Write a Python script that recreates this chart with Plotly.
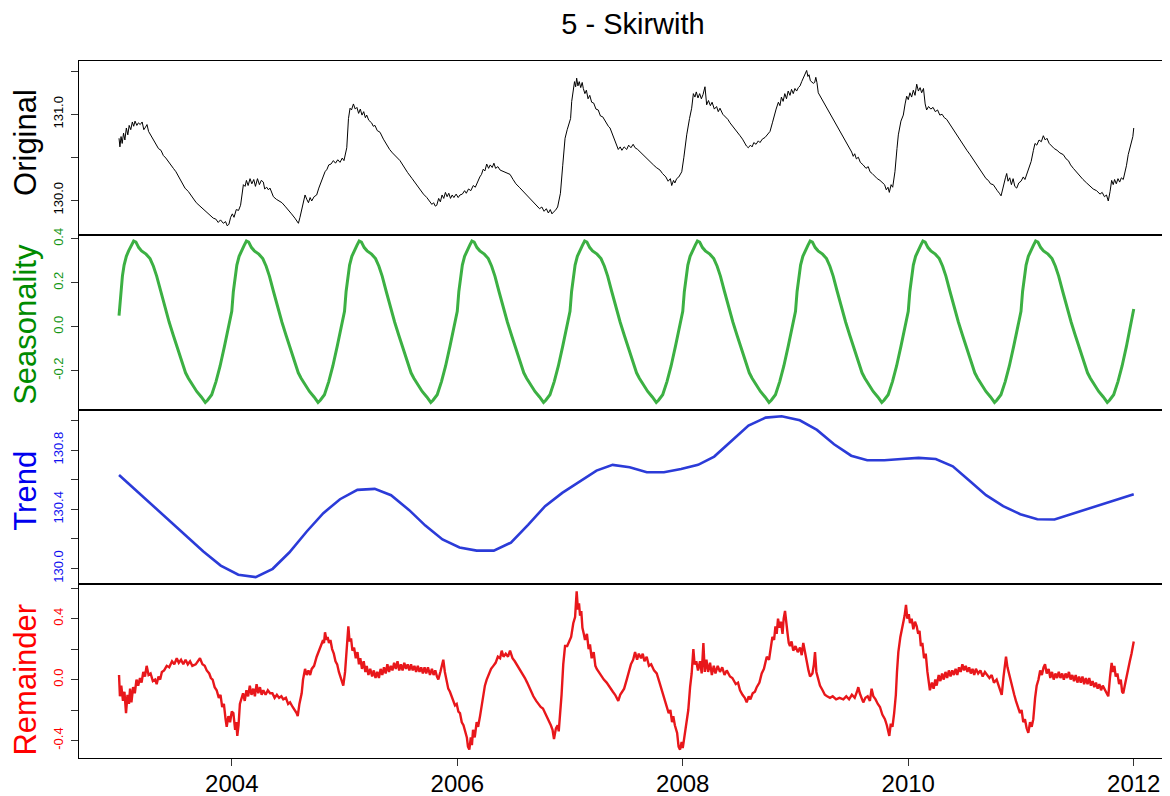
import plotly.graph_objects as go
from plotly.subplots import make_subplots

# ---------------- data ----------------
# (decimal year, value)
original_points = [
    (2003.000, 130.72), (2003.008, 130.62), (2003.018, 130.74), (2003.028, 130.66), (2003.040, 130.78),
    (2003.052, 130.70), (2003.065, 130.84), (2003.078, 130.76), (2003.090, 130.87), (2003.104, 130.82),
    (2003.118, 130.91), (2003.130, 130.86), (2003.142, 130.92), (2003.158, 130.87), (2003.172, 130.90),
    (2003.188, 130.88), (2003.205, 130.91), (2003.220, 130.82), (2003.235, 130.85), (2003.248, 130.88),
    (2003.262, 130.80), (2003.280, 130.76), (2003.304, 130.70), (2003.330, 130.64), (2003.350, 130.60),
    (2003.372, 130.58), (2003.393, 130.52), (2003.415, 130.49), (2003.440, 130.45), (2003.460, 130.41),
    (2003.482, 130.37), (2003.505, 130.33), (2003.530, 130.27), (2003.555, 130.21), (2003.585, 130.14),
    (2003.615, 130.10), (2003.650, 130.03), (2003.685, 129.97), (2003.718, 129.93), (2003.750, 129.89),
    (2003.780, 129.86), (2003.808, 129.82), (2003.836, 129.79), (2003.858, 129.78), (2003.880, 129.74),
    (2003.900, 129.77), (2003.925, 129.73), (2003.945, 129.75), (2003.960, 129.70), (2003.975, 129.72),
    (2003.990, 129.80), (2004.005, 129.84), (2004.020, 129.80), (2004.040, 129.89), (2004.060, 129.88),
    (2004.078, 129.94), (2004.092, 130.08), (2004.103, 130.18), (2004.118, 130.16), (2004.130, 130.23),
    (2004.145, 130.17), (2004.162, 130.25), (2004.178, 130.19), (2004.195, 130.24), (2004.210, 130.16),
    (2004.228, 130.25), (2004.245, 130.18), (2004.262, 130.23), (2004.280, 130.21), (2004.292, 130.13),
    (2004.310, 130.15), (2004.325, 130.12), (2004.339, 130.14), (2004.355, 130.08), (2004.369, 130.04),
    (2004.395, 130.01), (2004.420, 129.99), (2004.445, 129.97), (2004.472, 129.93), (2004.500, 129.88),
    (2004.530, 129.84), (2004.560, 129.79), (2004.591, 129.73), (2004.605, 129.80), (2004.620, 129.89),
    (2004.635, 129.95), (2004.650, 130.06), (2004.665, 130.01), (2004.680, 129.97), (2004.695, 130.03),
    (2004.709, 129.99), (2004.730, 130.04), (2004.753, 130.06), (2004.772, 130.14), (2004.790, 130.20),
    (2004.810, 130.27), (2004.827, 130.33), (2004.845, 130.36), (2004.860, 130.41), (2004.880, 130.42),
    (2004.901, 130.46), (2004.920, 130.43), (2004.940, 130.47), (2004.960, 130.44), (2004.980, 130.49),
    (2004.995, 130.46), (2005.010, 130.55), (2005.020, 130.61), (2005.035, 130.95), (2005.049, 131.07),
    (2005.062, 131.05), (2005.079, 131.12), (2005.095, 131.06), (2005.110, 131.08), (2005.125, 131.01),
    (2005.140, 131.06), (2005.155, 130.99), (2005.170, 131.03), (2005.185, 130.96), (2005.197, 130.99),
    (2005.215, 130.93), (2005.240, 130.90), (2005.255, 130.86), (2005.270, 130.87), (2005.290, 130.81),
    (2005.315, 130.79), (2005.345, 130.71), (2005.370, 130.65), (2005.400, 130.59), (2005.425, 130.55),
    (2005.450, 130.51), (2005.470, 130.49), (2005.492, 130.46), (2005.525, 130.39), (2005.560, 130.32),
    (2005.600, 130.25), (2005.640, 130.18), (2005.670, 130.12), (2005.700, 130.07), (2005.730, 130.03),
    (2005.758, 129.98), (2005.775, 129.95), (2005.790, 129.97), (2005.805, 129.93), (2005.818, 129.94),
    (2005.835, 130.02), (2005.850, 129.98), (2005.865, 130.06), (2005.880, 130.02), (2005.895, 130.09),
    (2005.910, 130.04), (2005.925, 130.08), (2005.940, 130.02), (2005.955, 130.06), (2005.970, 130.03),
    (2005.990, 130.07), (2006.008, 130.03), (2006.024, 130.06), (2006.045, 130.07), (2006.065, 130.11),
    (2006.080, 130.08), (2006.100, 130.13), (2006.120, 130.11), (2006.142, 130.17), (2006.160, 130.15),
    (2006.180, 130.22), (2006.200, 130.27), (2006.215, 130.30), (2006.230, 130.36), (2006.245, 130.34),
    (2006.261, 130.42), (2006.278, 130.37), (2006.292, 130.41), (2006.310, 130.38), (2006.325, 130.43),
    (2006.340, 130.37), (2006.360, 130.39), (2006.380, 130.35), (2006.400, 130.34), (2006.430, 130.32),
    (2006.468, 130.30), (2006.495, 130.24), (2006.520, 130.19), (2006.550, 130.15), (2006.586, 130.10),
    (2006.615, 130.06), (2006.650, 130.01), (2006.680, 129.97), (2006.705, 129.94), (2006.730, 129.90),
    (2006.750, 129.92), (2006.770, 129.87), (2006.790, 129.90), (2006.808, 129.85), (2006.825, 129.89),
    (2006.840, 129.84), (2006.852, 129.86), (2006.870, 129.88), (2006.890, 129.92), (2006.905, 130.00),
    (2006.915, 130.08), (2006.935, 130.40), (2006.956, 130.72), (2006.975, 130.82), (2006.990, 130.90),
    (2007.005, 130.95), (2007.015, 131.15), (2007.029, 131.30), (2007.040, 131.38), (2007.050, 131.32),
    (2007.059, 131.42), (2007.070, 131.33), (2007.082, 131.38), (2007.095, 131.31), (2007.108, 131.37),
    (2007.118, 131.30), (2007.132, 131.24), (2007.145, 131.28), (2007.160, 131.18), (2007.175, 131.22),
    (2007.192, 131.14), (2007.210, 131.13), (2007.230, 131.06), (2007.250, 131.05), (2007.270, 130.98),
    (2007.290, 130.97), (2007.320, 130.90), (2007.340, 130.86), (2007.355, 130.84), (2007.380, 130.75),
    (2007.400, 130.68), (2007.415, 130.62), (2007.428, 130.59), (2007.445, 130.62), (2007.460, 130.58),
    (2007.480, 130.62), (2007.503, 130.59), (2007.520, 130.64), (2007.540, 130.61), (2007.560, 130.65),
    (2007.577, 130.61), (2007.600, 130.59), (2007.630, 130.55), (2007.650, 130.53), (2007.680, 130.48),
    (2007.700, 130.46), (2007.720, 130.43), (2007.740, 130.41), (2007.765, 130.38), (2007.798, 130.35),
    (2007.820, 130.31), (2007.850, 130.27), (2007.870, 130.22), (2007.890, 130.25), (2007.902, 130.17),
    (2007.918, 130.23), (2007.930, 130.20), (2007.946, 130.25), (2007.965, 130.27), (2007.991, 130.33),
    (2008.010, 130.50), (2008.035, 130.76), (2008.060, 130.95), (2008.079, 131.07), (2008.094, 131.24),
    (2008.108, 131.20), (2008.120, 131.26), (2008.135, 131.19), (2008.150, 131.24), (2008.165, 131.18),
    (2008.180, 131.23), (2008.197, 131.32), (2008.212, 131.11), (2008.228, 131.16), (2008.245, 131.10),
    (2008.260, 131.14), (2008.280, 131.06), (2008.300, 131.09), (2008.315, 131.03), (2008.330, 131.07),
    (2008.355, 131.00), (2008.380, 130.97), (2008.400, 130.94), (2008.419, 130.90), (2008.445, 130.86),
    (2008.470, 130.82), (2008.490, 130.79), (2008.508, 130.75), (2008.530, 130.71), (2008.550, 130.66),
    (2008.565, 130.63), (2008.581, 130.61), (2008.600, 130.64), (2008.615, 130.62), (2008.630, 130.67),
    (2008.650, 130.65), (2008.670, 130.69), (2008.685, 130.67), (2008.705, 130.71), (2008.730, 130.73),
    (2008.752, 130.77), (2008.774, 130.80), (2008.795, 130.90), (2008.810, 130.96), (2008.828, 131.06),
    (2008.848, 131.14), (2008.862, 131.10), (2008.875, 131.20), (2008.890, 131.15), (2008.905, 131.24),
    (2008.920, 131.18), (2008.935, 131.27), (2008.951, 131.22), (2008.965, 131.29), (2008.980, 131.24),
    (2008.995, 131.30), (2009.010, 131.27), (2009.025, 131.31), (2009.040, 131.33), (2009.055, 131.38),
    (2009.070, 131.43), (2009.085, 131.47), (2009.099, 131.51), (2009.110, 131.44), (2009.120, 131.46),
    (2009.132, 131.39), (2009.144, 131.38), (2009.158, 131.36), (2009.170, 131.37), (2009.180, 131.43),
    (2009.190, 131.37), (2009.202, 131.25), (2009.498, 130.56), (2009.512, 130.51), (2009.525, 130.54),
    (2009.540, 130.48), (2009.557, 130.50), (2009.575, 130.44), (2009.600, 130.41), (2009.625, 130.37),
    (2009.645, 130.39), (2009.661, 130.33), (2009.680, 130.31), (2009.700, 130.28), (2009.725, 130.25),
    (2009.749, 130.23), (2009.770, 130.20), (2009.790, 130.18), (2009.805, 130.12), (2009.820, 130.15),
    (2009.832, 130.09), (2009.848, 130.18), (2009.862, 130.15), (2009.882, 130.33), (2009.900, 130.60),
    (2009.912, 130.76), (2009.935, 130.92), (2009.956, 130.99), (2009.972, 131.12), (2009.986, 131.21),
    (2010.000, 131.17), (2010.015, 131.25), (2010.030, 131.20), (2010.045, 131.28), (2010.060, 131.22),
    (2010.075, 131.35), (2010.090, 131.27), (2010.105, 131.31), (2010.119, 131.25), (2010.135, 131.30),
    (2010.150, 131.12), (2010.163, 131.05), (2010.180, 131.09), (2010.200, 131.06), (2010.220, 131.08),
    (2010.240, 131.03), (2010.260, 131.05), (2010.280, 130.99), (2010.300, 131.00), (2010.320, 130.96),
    (2010.341, 130.94), (2010.365, 130.89), (2010.390, 130.84), (2010.410, 130.80), (2010.430, 130.76),
    (2010.460, 130.70), (2010.490, 130.64), (2010.520, 130.58), (2010.548, 130.53), (2010.580, 130.47),
    (2010.610, 130.41), (2010.640, 130.35), (2010.666, 130.30), (2010.690, 130.25), (2010.710, 130.23),
    (2010.730, 130.19), (2010.754, 130.18), (2010.775, 130.13), (2010.790, 130.11), (2010.808, 130.08),
    (2010.823, 130.05), (2010.838, 130.13), (2010.850, 130.21), (2010.862, 130.26), (2010.873, 130.31),
    (2010.885, 130.22), (2010.900, 130.26), (2010.915, 130.18), (2010.930, 130.25), (2010.945, 130.16),
    (2010.962, 130.14), (2010.980, 130.20), (2011.000, 130.22), (2011.020, 130.27), (2011.035, 130.24),
    (2011.051, 130.30), (2011.070, 130.38), (2011.090, 130.45), (2011.110, 130.58), (2011.124, 130.66),
    (2011.140, 130.64), (2011.160, 130.70), (2011.180, 130.68), (2011.198, 130.75), (2011.215, 130.70),
    (2011.230, 130.72), (2011.250, 130.66), (2011.272, 130.63), (2011.295, 130.60), (2011.320, 130.58),
    (2011.345, 130.55), (2011.375, 130.53), (2011.400, 130.48), (2011.420, 130.46), (2011.440, 130.41),
    (2011.464, 130.37), (2011.490, 130.33), (2011.520, 130.28), (2011.550, 130.24), (2011.582, 130.20),
    (2011.610, 130.16), (2011.640, 130.13), (2011.670, 130.11), (2011.701, 130.07), (2011.720, 130.09),
    (2011.740, 130.04), (2011.758, 130.06), (2011.774, 129.99), (2011.790, 130.10), (2011.804, 130.23),
    (2011.818, 130.18), (2011.830, 130.24), (2011.845, 130.19), (2011.860, 130.25), (2011.875, 130.21),
    (2011.890, 130.26), (2011.907, 130.24), (2011.920, 130.30), (2011.935, 130.40), (2011.951, 130.53),
    (2011.965, 130.60), (2011.981, 130.69), (2011.992, 130.74), (2012.000, 130.84),
]

seas_years = [2003, 2004, 2005, 2006, 2007, 2008, 2009, 2010, 2011]
seas_phase = [0.000, 0.014, 0.030, 0.045, 0.065, 0.085, 0.110, 0.130, 0.150, 0.175, 0.200,
              0.240, 0.275, 0.305, 0.334, 0.370, 0.408, 0.445, 0.482, 0.520, 0.556, 0.590,
              0.615, 0.650, 0.689, 0.730, 0.765, 0.785, 0.822, 0.860, 0.896, 0.935, 0.970]
seas_by_year = [
    [0.05, 0.15, 0.23, 0.28, 0.32, 0.345, 0.37, 0.39, 0.385, 0.36, 0.345, 0.33, 0.31, 0.275, 0.23, 0.16, 0.085,
     0.02, -0.04, -0.10, -0.16, -0.21, -0.235, -0.265, -0.295, -0.32, -0.345, -0.335, -0.31, -0.25, -0.18, -0.09, 0.0],
    [0.07, 0.16, 0.23, 0.28, 0.32, 0.345, 0.37, 0.39, 0.385, 0.36, 0.345, 0.33, 0.31, 0.275, 0.23, 0.16, 0.085,
     0.02, -0.04, -0.10, -0.16, -0.21, -0.235, -0.265, -0.295, -0.32, -0.345, -0.335, -0.31, -0.25, -0.18, -0.09, 0.0],
    [0.07, 0.16, 0.23, 0.28, 0.32, 0.345, 0.37, 0.39, 0.385, 0.36, 0.345, 0.33, 0.31, 0.275, 0.23, 0.16, 0.085,
     0.02, -0.04, -0.10, -0.16, -0.21, -0.235, -0.265, -0.295, -0.32, -0.345, -0.335, -0.31, -0.25, -0.18, -0.09, 0.0],
    [0.07, 0.16, 0.23, 0.28, 0.32, 0.345, 0.37, 0.39, 0.385, 0.36, 0.345, 0.33, 0.31, 0.275, 0.23, 0.16, 0.085,
     0.02, -0.04, -0.10, -0.16, -0.21, -0.235, -0.265, -0.295, -0.32, -0.345, -0.335, -0.31, -0.25, -0.18, -0.09, 0.0],
    [0.07, 0.16, 0.23, 0.28, 0.32, 0.345, 0.37, 0.39, 0.385, 0.36, 0.345, 0.33, 0.31, 0.275, 0.23, 0.16, 0.085,
     0.02, -0.04, -0.10, -0.16, -0.21, -0.235, -0.265, -0.295, -0.32, -0.345, -0.335, -0.31, -0.25, -0.18, -0.09, 0.0],
    [0.07, 0.16, 0.23, 0.28, 0.32, 0.345, 0.37, 0.39, 0.385, 0.36, 0.345, 0.33, 0.31, 0.275, 0.23, 0.16, 0.085,
     0.02, -0.04, -0.10, -0.16, -0.21, -0.235, -0.265, -0.295, -0.32, -0.345, -0.335, -0.31, -0.25, -0.18, -0.09, 0.0],
    [0.07, 0.16, 0.23, 0.28, 0.32, 0.345, 0.37, 0.39, 0.385, 0.36, 0.345, 0.33, 0.31, 0.275, 0.23, 0.16, 0.085,
     0.02, -0.04, -0.10, -0.16, -0.21, -0.235, -0.265, -0.295, -0.32, -0.345, -0.335, -0.31, -0.25, -0.18, -0.09, 0.0],
    [0.07, 0.16, 0.23, 0.28, 0.32, 0.345, 0.37, 0.39, 0.385, 0.36, 0.345, 0.33, 0.31, 0.275, 0.23, 0.16, 0.085,
     0.02, -0.04, -0.10, -0.16, -0.21, -0.235, -0.265, -0.295, -0.32, -0.345, -0.335, -0.31, -0.25, -0.18, -0.09, 0.0],
    [0.07, 0.16, 0.23, 0.28, 0.32, 0.345, 0.37, 0.39, 0.385, 0.36, 0.345, 0.33, 0.31, 0.275, 0.23, 0.16, 0.085,
     0.02, -0.04, -0.10, -0.16, -0.21, -0.235, -0.265, -0.295, -0.32, -0.345, -0.335, -0.31, -0.25, -0.18, -0.09, 0.0],
]
seas_end_t = 2012.0
seas_end_v = 0.08

trend_t = [2003.000, 2003.150, 2003.300, 2003.450, 2003.600, 2003.748, 2003.902, 2004.058, 2004.212, 2004.363,
           2004.510, 2004.665, 2004.812, 2004.960, 2005.114, 2005.268, 2005.413, 2005.574, 2005.717, 2005.869,
           2006.020, 2006.172, 2006.324, 2006.476, 2006.628, 2006.779, 2006.931, 2007.083, 2007.235, 2007.378,
           2007.529, 2007.681, 2007.833, 2007.985, 2008.136, 2008.279, 2008.431, 2008.583, 2008.735, 2008.877,
           2009.038, 2009.190, 2009.342, 2009.494, 2009.636, 2009.788, 2009.940, 2010.092, 2010.244, 2010.395,
           2010.538, 2010.690, 2010.842, 2010.994, 2011.145, 2011.297, 2012.000]
trend_v = [130.632, 130.528, 130.425, 130.321, 130.217, 130.115, 130.020, 129.958, 129.942, 129.998,
           130.108, 130.250, 130.374, 130.468, 130.531, 130.538, 130.495, 130.394, 130.290, 130.196,
           130.142, 130.121, 130.121, 130.175, 130.295, 130.421, 130.511, 130.587, 130.661, 130.700,
           130.684, 130.650, 130.650, 130.672, 130.700, 130.756, 130.861, 130.965, 131.019, 131.028,
           131.001, 130.936, 130.839, 130.762, 130.731, 130.731, 130.740, 130.747, 130.740, 130.690,
           130.596, 130.495, 130.421, 130.367, 130.333, 130.331, 130.502]

remainder_points = [
    (2003.000, 0.03), (2003.008, -0.11), (2003.020, -0.04), (2003.035, -0.14), (2003.048, -0.08),
    (2003.062, -0.22), (2003.075, -0.10), (2003.088, -0.16), (2003.098, -0.06), (2003.110, -0.15),
    (2003.125, -0.05), (2003.140, -0.09), (2003.155, 0.00), (2003.170, -0.04), (2003.186, 0.01),
    (2003.200, -0.02), (2003.215, 0.05), (2003.230, 0.02), (2003.245, 0.09), (2003.262, 0.03),
    (2003.280, 0.04), (2003.300, -0.01), (2003.320, 0.00), (2003.334, -0.03), (2003.350, 0.02),
    (2003.365, 0.00), (2003.380, 0.05), (2003.400, 0.06), (2003.423, 0.09), (2003.445, 0.08),
    (2003.470, 0.12), (2003.490, 0.10), (2003.512, 0.14), (2003.530, 0.11), (2003.550, 0.13),
    (2003.570, 0.10), (2003.590, 0.13), (2003.610, 0.10), (2003.630, 0.12), (2003.650, 0.09),
    (2003.680, 0.10), (2003.700, 0.12), (2003.718, 0.14), (2003.740, 0.10), (2003.760, 0.09),
    (2003.778, 0.06), (2003.800, 0.04), (2003.815, 0.01), (2003.830, 0.00), (2003.848, -0.05),
    (2003.866, -0.07), (2003.885, -0.12), (2003.900, -0.10), (2003.915, -0.18), (2003.930, -0.16),
    (2003.945, -0.26), (2003.955, -0.31), (2003.970, -0.24), (2003.985, -0.28), (2004.000, -0.21),
    (2004.014, -0.22), (2004.030, -0.33), (2004.040, -0.28), (2004.049, -0.37), (2004.060, -0.30),
    (2004.072, -0.16), (2004.088, -0.12), (2004.100, -0.09), (2004.115, -0.14), (2004.130, -0.07),
    (2004.145, -0.11), (2004.160, -0.04), (2004.175, -0.10), (2004.191, -0.06), (2004.205, -0.11),
    (2004.220, -0.03), (2004.235, -0.09), (2004.250, -0.05), (2004.265, -0.10), (2004.280, -0.07),
    (2004.300, -0.10), (2004.320, -0.07), (2004.340, -0.09), (2004.360, -0.09), (2004.380, -0.12),
    (2004.400, -0.10), (2004.420, -0.12), (2004.440, -0.11), (2004.457, -0.13), (2004.480, -0.12),
    (2004.500, -0.16), (2004.517, -0.15), (2004.540, -0.18), (2004.560, -0.20), (2004.575, -0.22),
    (2004.585, -0.24), (2004.600, -0.16), (2004.620, -0.09), (2004.632, 0.00), (2004.650, 0.07),
    (2004.665, 0.03), (2004.680, 0.06), (2004.695, 0.03), (2004.709, 0.07), (2004.730, 0.09),
    (2004.753, 0.15), (2004.770, 0.18), (2004.790, 0.22), (2004.805, 0.25), (2004.818, 0.24),
    (2004.827, 0.31), (2004.840, 0.26), (2004.850, 0.28), (2004.862, 0.24), (2004.875, 0.26),
    (2004.890, 0.20), (2004.905, 0.17), (2004.920, 0.12), (2004.935, 0.10), (2004.950, 0.05),
    (2004.965, 0.02), (2004.978, -0.01), (2004.989, -0.04), (2005.005, 0.05), (2005.020, 0.20),
    (2005.034, 0.35), (2005.045, 0.25), (2005.058, 0.27), (2005.070, 0.19), (2005.085, 0.21),
    (2005.100, 0.14), (2005.115, 0.18), (2005.128, 0.10), (2005.140, 0.14), (2005.155, 0.07),
    (2005.170, 0.12), (2005.185, 0.05), (2005.197, 0.09), (2005.212, 0.03), (2005.228, 0.07),
    (2005.245, 0.02), (2005.260, 0.06), (2005.275, 0.01), (2005.290, 0.05), (2005.305, 0.01),
    (2005.320, 0.07), (2005.335, 0.03), (2005.350, 0.08), (2005.365, 0.04), (2005.380, 0.10),
    (2005.395, 0.05), (2005.410, 0.09), (2005.425, 0.06), (2005.440, 0.11), (2005.455, 0.07),
    (2005.470, 0.12), (2005.485, 0.06), (2005.500, 0.10), (2005.515, 0.06), (2005.530, 0.11),
    (2005.545, 0.07), (2005.560, 0.10), (2005.575, 0.06), (2005.590, 0.10), (2005.605, 0.06),
    (2005.620, 0.09), (2005.635, 0.05), (2005.650, 0.09), (2005.665, 0.05), (2005.680, 0.08),
    (2005.695, 0.04), (2005.710, 0.08), (2005.725, 0.04), (2005.740, 0.08), (2005.758, 0.03),
    (2005.775, 0.07), (2005.790, 0.03), (2005.805, 0.06), (2005.820, 0.02), (2005.832, 0.00),
    (2005.850, 0.05), (2005.862, 0.09), (2005.876, 0.13), (2005.890, 0.05), (2005.905, -0.02),
    (2005.920, -0.06), (2005.935, -0.08), (2005.950, -0.11), (2005.965, -0.13), (2005.980, -0.17),
    (2005.995, -0.16), (2006.010, -0.21), (2006.024, -0.22), (2006.040, -0.28), (2006.055, -0.30),
    (2006.070, -0.35), (2006.085, -0.38), (2006.095, -0.44), (2006.107, -0.46), (2006.120, -0.38),
    (2006.130, -0.43), (2006.140, -0.33), (2006.155, -0.38), (2006.172, -0.28), (2006.185, -0.31),
    (2006.202, -0.24), (2006.215, -0.18), (2006.230, -0.10), (2006.245, -0.04), (2006.261, 0.00),
    (2006.280, 0.04), (2006.300, 0.07), (2006.320, 0.09), (2006.340, 0.11), (2006.360, 0.15),
    (2006.380, 0.14), (2006.394, 0.19), (2006.410, 0.15), (2006.430, 0.17), (2006.450, 0.15),
    (2006.468, 0.19), (2006.490, 0.14), (2006.510, 0.12), (2006.535, 0.09), (2006.557, 0.07),
    (2006.580, 0.04), (2006.600, 0.01), (2006.620, -0.02), (2006.650, -0.07), (2006.675, -0.11),
    (2006.700, -0.14), (2006.720, -0.16), (2006.740, -0.18), (2006.760, -0.19), (2006.780, -0.22),
    (2006.793, -0.24), (2006.810, -0.26), (2006.830, -0.30), (2006.845, -0.33), (2006.858, -0.39),
    (2006.875, -0.32), (2006.890, -0.30), (2006.900, -0.34), (2006.911, -0.24), (2006.925, -0.10),
    (2006.940, 0.10), (2006.956, 0.22), (2006.975, 0.22), (2006.990, 0.25), (2007.010, 0.28),
    (2007.029, 0.37), (2007.045, 0.41), (2007.059, 0.58), (2007.070, 0.46), (2007.080, 0.50),
    (2007.089, 0.42), (2007.100, 0.45), (2007.110, 0.34), (2007.122, 0.30), (2007.133, 0.26),
    (2007.150, 0.30), (2007.165, 0.20), (2007.177, 0.23), (2007.192, 0.14), (2007.210, 0.18),
    (2007.225, 0.09), (2007.237, 0.07), (2007.255, 0.05), (2007.280, 0.02), (2007.300, 0.00),
    (2007.325, -0.02), (2007.350, -0.05), (2007.380, -0.08), (2007.400, -0.10), (2007.415, -0.12),
    (2007.428, -0.14), (2007.445, -0.10), (2007.460, -0.08), (2007.480, -0.06), (2007.503, 0.00),
    (2007.520, 0.04), (2007.540, 0.10), (2007.560, 0.13), (2007.577, 0.18), (2007.595, 0.13),
    (2007.610, 0.17), (2007.630, 0.14), (2007.645, 0.17), (2007.660, 0.12), (2007.680, 0.15),
    (2007.700, 0.09), (2007.720, 0.10), (2007.745, 0.06), (2007.769, 0.04), (2007.790, -0.01),
    (2007.810, -0.06), (2007.835, -0.12), (2007.858, -0.18), (2007.875, -0.22), (2007.890, -0.20),
    (2007.905, -0.28), (2007.916, -0.24), (2007.930, -0.30), (2007.950, -0.35), (2007.963, -0.44),
    (2007.976, -0.46), (2007.990, -0.41), (2008.000, -0.45), (2008.010, -0.40), (2008.020, -0.37),
    (2008.035, -0.30), (2008.049, -0.20), (2008.065, -0.05), (2008.079, 0.04), (2008.094, 0.20),
    (2008.105, 0.10), (2008.120, 0.12), (2008.135, 0.06), (2008.153, 0.12), (2008.168, 0.04),
    (2008.183, 0.24), (2008.195, 0.05), (2008.210, 0.13), (2008.225, 0.05), (2008.242, 0.11),
    (2008.258, 0.03), (2008.275, 0.09), (2008.290, 0.04), (2008.310, 0.09), (2008.330, 0.05),
    (2008.350, 0.08), (2008.370, 0.03), (2008.390, 0.06), (2008.419, 0.02), (2008.440, 0.01),
    (2008.470, -0.03), (2008.490, -0.02), (2008.508, -0.07), (2008.530, -0.10), (2008.550, -0.12),
    (2008.567, -0.15), (2008.585, -0.11), (2008.600, -0.13), (2008.620, -0.09), (2008.640, -0.08),
    (2008.656, -0.05), (2008.680, -0.02), (2008.700, 0.04), (2008.720, 0.07), (2008.745, 0.15),
    (2008.765, 0.13), (2008.780, 0.22), (2008.795, 0.28), (2008.810, 0.26), (2008.822, 0.35),
    (2008.833, 0.30), (2008.845, 0.40), (2008.858, 0.34), (2008.870, 0.38), (2008.885, 0.30),
    (2008.895, 0.40), (2008.907, 0.45), (2008.918, 0.36), (2008.930, 0.30), (2008.940, 0.24),
    (2008.951, 0.22), (2008.965, 0.25), (2008.980, 0.19), (2009.000, 0.22), (2009.020, 0.18),
    (2009.040, 0.21), (2009.055, 0.16), (2009.069, 0.24), (2009.085, 0.17), (2009.100, 0.13),
    (2009.115, 0.06), (2009.129, 0.02), (2009.150, 0.04), (2009.163, 0.10), (2009.173, 0.18),
    (2009.185, 0.05), (2009.200, 0.00), (2009.217, -0.04), (2009.240, -0.07), (2009.260, -0.10),
    (2009.280, -0.11), (2009.306, -0.12), (2009.330, -0.11), (2009.360, -0.13), (2009.390, -0.12),
    (2009.424, -0.13), (2009.450, -0.11), (2009.475, -0.13), (2009.500, -0.10), (2009.525, -0.12),
    (2009.545, -0.08), (2009.557, -0.05), (2009.570, -0.09), (2009.585, -0.12), (2009.601, -0.15),
    (2009.620, -0.12), (2009.640, -0.11), (2009.660, -0.14), (2009.675, -0.06), (2009.690, -0.11),
    (2009.710, -0.13), (2009.730, -0.16), (2009.749, -0.18), (2009.770, -0.23), (2009.793, -0.26),
    (2009.810, -0.30), (2009.820, -0.33), (2009.832, -0.37), (2009.845, -0.29), (2009.860, -0.31),
    (2009.875, -0.22), (2009.890, -0.10), (2009.900, 0.05), (2009.912, 0.18), (2009.930, 0.28),
    (2009.945, 0.33), (2009.956, 0.37), (2009.968, 0.42), (2009.980, 0.49), (2009.992, 0.40),
    (2010.005, 0.43), (2010.015, 0.37), (2010.030, 0.40), (2010.045, 0.33), (2010.060, 0.38),
    (2010.075, 0.35), (2010.088, 0.30), (2010.100, 0.32), (2010.112, 0.22), (2010.125, 0.24),
    (2010.140, 0.14), (2010.155, 0.17), (2010.170, 0.05), (2010.182, -0.03), (2010.192, -0.07),
    (2010.210, -0.02), (2010.225, -0.06), (2010.240, 0.00), (2010.252, -0.04), (2010.270, 0.03),
    (2010.285, -0.01), (2010.300, 0.04), (2010.315, 0.00), (2010.330, 0.05), (2010.345, 0.01),
    (2010.360, 0.06), (2010.375, 0.02), (2010.390, 0.06), (2010.405, 0.03), (2010.420, 0.07),
    (2010.435, 0.03), (2010.450, 0.08), (2010.465, 0.05), (2010.480, 0.10), (2010.495, 0.06),
    (2010.510, 0.09), (2010.525, 0.05), (2010.540, 0.08), (2010.555, 0.04), (2010.570, 0.07),
    (2010.585, 0.03), (2010.600, 0.07), (2010.620, 0.04), (2010.640, 0.06), (2010.660, 0.02),
    (2010.680, 0.05), (2010.700, 0.03), (2010.720, 0.01), (2010.740, 0.03), (2010.760, -0.02),
    (2010.784, 0.00), (2010.800, -0.04), (2010.815, -0.07), (2010.829, -0.10), (2010.845, 0.02),
    (2010.857, 0.10), (2010.867, 0.15), (2010.880, 0.08), (2010.895, 0.03), (2010.910, -0.02),
    (2010.925, -0.06), (2010.940, -0.10), (2010.955, -0.14), (2010.970, -0.18), (2010.991, -0.22),
    (2011.005, -0.20), (2011.020, -0.28), (2011.035, -0.26), (2011.050, -0.32), (2011.065, -0.35),
    (2011.080, -0.28), (2011.095, -0.31), (2011.109, -0.26), (2011.125, -0.12), (2011.139, -0.04),
    (2011.155, 0.00), (2011.170, 0.06), (2011.185, 0.03), (2011.200, 0.08), (2011.213, 0.10),
    (2011.228, 0.04), (2011.245, 0.07), (2011.260, 0.01), (2011.275, 0.05), (2011.290, 0.00),
    (2011.305, 0.04), (2011.320, 0.01), (2011.335, 0.05), (2011.350, 0.01), (2011.365, 0.04),
    (2011.380, 0.00), (2011.395, 0.04), (2011.410, 0.01), (2011.425, 0.05), (2011.440, 0.00),
    (2011.455, 0.03), (2011.470, -0.01), (2011.485, 0.03), (2011.500, -0.02), (2011.515, 0.02),
    (2011.530, -0.02), (2011.545, 0.02), (2011.560, -0.03), (2011.575, 0.01), (2011.590, -0.03),
    (2011.605, 0.01), (2011.620, -0.04), (2011.635, -0.01), (2011.650, -0.05), (2011.665, -0.02),
    (2011.680, -0.06), (2011.695, -0.03), (2011.710, -0.07), (2011.725, -0.04), (2011.740, -0.06),
    (2011.755, -0.09), (2011.774, -0.11), (2011.790, 0.02), (2011.804, 0.11), (2011.815, 0.05),
    (2011.828, 0.09), (2011.840, 0.02), (2011.855, 0.04), (2011.870, -0.03), (2011.885, 0.00),
    (2011.897, -0.08), (2011.907, -0.09), (2011.920, -0.04), (2011.935, 0.02), (2011.951, 0.09),
    (2011.965, 0.12), (2011.980, 0.17), (2011.990, 0.20), (2012.000, 0.25),
]

x_tick_vals = [2004, 2006, 2008, 2010, 2012]
x_tick_text = ["2004", "2006", "2008", "2010", "2012"]

# ---------------- assemble series ----------------
orig_t = [p[0] for p in original_points]
orig_v = [p[1] for p in original_points]
rem_t = [p[0] for p in remainder_points]
rem_v = [p[1] for p in remainder_points]
seas_t, seas_v = [], []
for yr, vals in zip(seas_years, seas_by_year):
    for ph, v in zip(seas_phase, vals):
        seas_t.append(yr + ph)
        seas_v.append(v)
seas_t.append(seas_end_t)
seas_v.append(seas_end_v)

# ---------------- figure ----------------
FONT = "Liberation Sans, Arial, Helvetica, sans-serif"
fig = make_subplots(rows=4, cols=1, shared_xaxes=True, vertical_spacing=0)

fig.add_trace(go.Scatter(x=orig_t, y=orig_v, mode="lines", line=dict(color="black", width=1)), row=1, col=1)
fig.add_trace(go.Scatter(x=seas_t, y=seas_v, mode="lines", line=dict(color="#3cb043", width=3)), row=2, col=1)
fig.add_trace(go.Scatter(x=trend_t, y=trend_v, mode="lines", line=dict(color="#2b3bd8", width=2.6)), row=3, col=1)
fig.add_trace(go.Scatter(x=rem_t, y=rem_v, mode="lines", line=dict(color="#e8171b", width=2.4)), row=4, col=1)

x_range = [2002.645, 2012.3215]
for r in range(1, 5):
    fig.update_xaxes(range=x_range, showline=True, mirror=True, linecolor="black", linewidth=1.3,
                     showgrid=False, zeroline=False, row=r, col=1)
for r in range(1, 4):
    fig.update_xaxes(ticks="", showticklabels=False, row=r, col=1)
fig.update_xaxes(ticks="outside", ticklen=7, tickwidth=1, tickcolor="#333",
                 tickvals=x_tick_vals, ticktext=x_tick_text, showticklabels=True,
                 ticklabelstandoff=-3,
                 tickfont=dict(family=FONT, size=24, color="black"), row=4, col=1)

yspecs = [
    (1, [129.591, 131.62], [130.0, 130.5, 131.0, 131.5], ["130.0", "", "131.0", ""], "black"),
    (2, [-0.377, 0.416], [-0.2, 0.0, 0.2, 0.4], ["-0.2", "0.0", "0.2", "0.4"], "#149614"),
    (3, [129.897, 131.074], [130.0, 130.2, 130.4, 130.6, 130.8, 131.0],
     ["130.0", "", "130.4", "", "130.8", ""], "#1010f0"),
    (4, [-0.515, 0.629], [-0.4, -0.2, 0.0, 0.2, 0.4, 0.6], ["-0.4", "", "0.0", "", "0.4", ""], "#ff0000"),
]
for r, rng, tv, tt, col in yspecs:
    fig.update_yaxes(range=rng, tickvals=tv, ticktext=tt, tickangle=-90, ticks="outside", ticklen=7,
                     tickwidth=1, tickcolor="#333", showline=True, mirror=False, linecolor="black",
                     linewidth=1.3, showgrid=False, zeroline=False, ticklabelstandoff=3,
                     tickfont=dict(family=FONT, size=13, color=col), row=r, col=1)

# The page shows the figure with an 8px body offset; size/margins compensate for it.
OFF = 8
W = 1170 - OFF
H = 796 - OFF
titles = [("Original", "black", 143), ("Seasonality", "#008b00", 325),
          ("Trend", "#0000ee", 491), ("Remainder", "#ff0000", 680)]
for txt, col, ypx in titles:
    fig.add_annotation(text=txt, xref="paper", yref="paper",
                       x=(26 - 79) / 1091.0, y=(758.5 - ypx) / 697.5,
                       xanchor="center", yanchor="middle", textangle=-90, showarrow=False,
                       font=dict(family=FONT, size=31, color=col))

fig.update_layout(
    width=W, height=H,
    margin=dict(l=79 - OFF, r=0, t=61 - OFF, b=H - (758.5 - OFF), autoexpand=False),
    paper_bgcolor="white", plot_bgcolor="white",
    showlegend=False,
    title=dict(text="5 - Skirwith", x=(633 - 79) / 1091.0, xref="paper", xanchor="center",
               y=1 - (23.5 - OFF) / H, yref="container", yanchor="middle",
               font=dict(family=FONT, size=29, color="black")),
)

fig.write_html("out.html")
